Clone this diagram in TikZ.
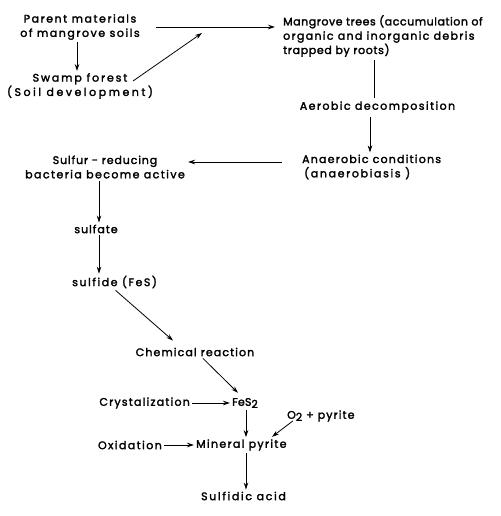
\documentclass[tikz,border=0pt]{standalone}
\usepackage{fontspec}
\setmainfont{Poppins}
\newfontfamily\lblfont{Poppins}[FakeBold=2.2]
\newcommand{\ls}[1]{\addfontfeatures{LetterSpace=#1}}
\usetikzlibrary{arrows.meta,calc}
\begin{document}
\begin{tikzpicture}[x=1pt,y=-1pt,
  lbl/.style={inner sep=2pt, font=\lblfont\fontsize{11}{14.3}\selectfont\ls{#1}},
  lbl/.default=10,
  arr/.style={-{Stealth[length=7pt,width=4.5pt]}, line width=0.8pt},
  plain/.style={line width=0.8pt}]
\useasboundingbox (0,0) rectangle (500,516);
\fill[white] (0,0) rectangle (500,516);
\newcommand{\subtwo}{\raisebox{-0.35ex}{2}}
% nodes
\node[lbl=14, align=center] (parent) at (80,27) {Parent materials\\of mangrove soils};
\node[lbl=17, align=center] (swamp) at (80,86) {Swamp forest\\{\ls{23}(Soil development)}};
\node[lbl=5, align=left, anchor=west] (mangrove) at (281,36) {Mangrove trees (accumulation of\\{\ls{12}organic and inorganic debris}\\{\ls{6}trapped by roots)}};
\node[lbl=13] (aerobic) at (377.5,107) {Aerobic decomposition};
\node[lbl=11, align=left, anchor=west] (anaerobic) at (300,167) {Anaerobic conditions\\{\ls{15}\hspace{2pt}(anaerobiasis )}};
\node[lbl=13, align=center] (sulfur) at (105,167) {{\ls{8}Sulfur - reducing}\\bacteria become active};
\node[lbl=9] (sulfate) at (96,229) {sulfate};
\node[lbl=14, anchor=west] (sulfide) at (70,282) {sulfide (FeS)};
\node[lbl=10] (chem) at (195,352) {Chemical reaction};
\node[lbl=2, anchor=west] (fes2) at (230,403) {FeS\subtwo};
\node[lbl=11, anchor=east] (cryst) at (192,403) {Crystalization};
\node[lbl=10, anchor=west] (o2) at (285,416) {O\subtwo\ + pyrite};
\node[lbl=13, anchor=east] (oxid) at (164,445) {Oxidation};
\node[lbl=12, anchor=west] (mineral) at (194,445) {Mineral pyrite};
\node[lbl=15] (acid) at (243.5,496) {Sulfidic acid};
% helper coordinates
\coordinate (join) at (202,33);
\coordinate (p1) at ($(parent.south)+(-3,0)$);
\coordinate (a0) at ($(aerobic.north)+(-3.5,0)$);
\coordinate (a1) at ($(aerobic.south)+(-7.5,2)$);
\coordinate (s1) at ($(sulfur.south)+(-6,0)$);
\coordinate (f1) at ($(fes2.south)+(1,0)$);
% connectors
\draw[arr] (p1) -- (p1 |- swamp.north);
\draw[arr] ($(parent.east)+(14,0)$) -- ($(parent.east -| mangrove.west)+(-6,0)$);
\draw[arr] ($(swamp.center)+(53,-5)$) -- (join);
\draw[plain] ($(a0 |- mangrove.south)+(0,1)$) -- ($(a0)+(0,-1)$);
\draw[arr] (a1) -- (a1 |- anaerobic.north);
\draw[arr] ($(anaerobic.west)+(-18,-5)$) -- ($(sulfur.center)+(83,-5)$);
\draw[arr] (s1) -- (s1 |- sulfate.north);
\draw[arr] ($(sulfate.south)+(3,0)$) -- ($(sulfate.south |- sulfide.north)+(3,0)$);
\draw[arr] ($(sulfide.south)+(1,0)$) -- ($(chem.north)+(-22,-5)$);
\draw[arr] ($(chem.south)+(8,0)$) -- ($(fes2.north)+(-7,-3)$);
\draw[arr] (cryst.east) -- (fes2.west);
\draw[arr] (f1) -- (f1 |- mineral.north);
\draw[arr] ($(o2.south west)+(8,-3)$) -- ++(-21,16);
\draw[arr] (oxid.east) -- (mineral.west);
\draw[arr] (f1 |- mineral.south) -- (f1 |- acid.north);
\end{tikzpicture}
\end{document}
